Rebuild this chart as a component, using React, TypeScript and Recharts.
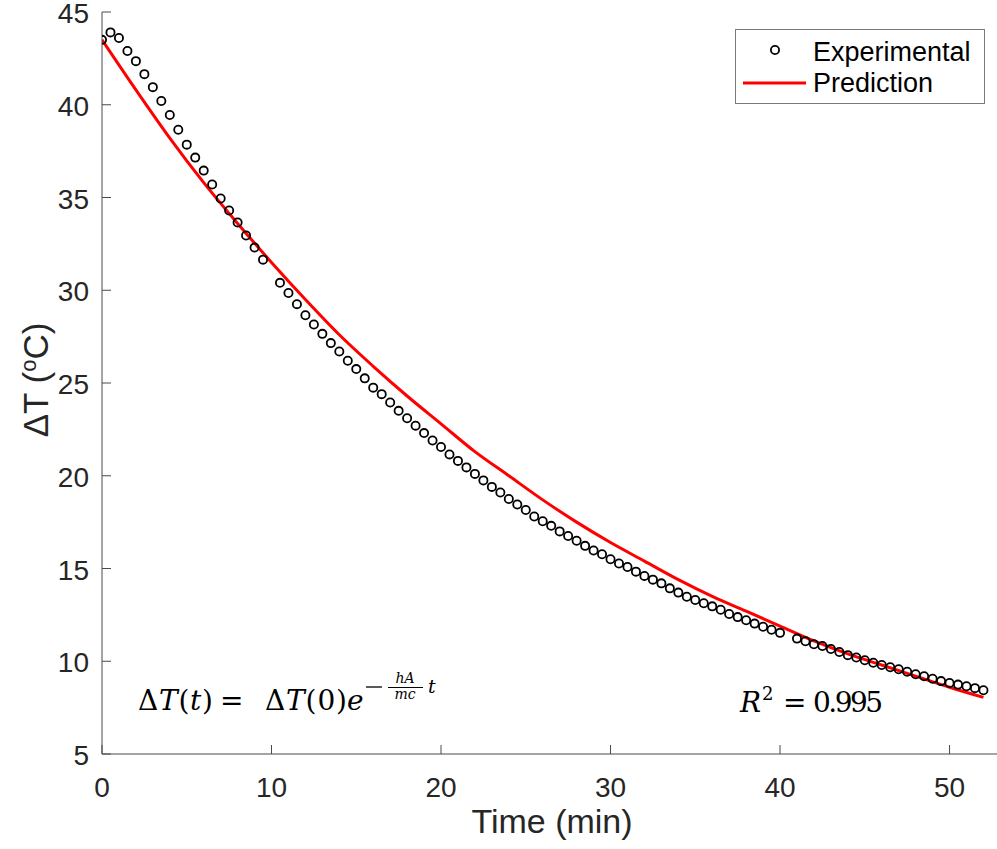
import { ComposedChart, Legend, Line, Scatter, XAxis, YAxis } from "recharts";

// measured cooling data (min, deg C)
const expTime = [
  0, 0.5, 1, 1.5, 2, 2.5, 3, 3.5, 4, 4.5, 5, 5.5, 6, 6.5, 7, 7.5, 8, 8.5, 9, 9.5,
  10.5, 11, 11.5, 12, 12.5, 13, 13.5, 14, 14.5, 15, 15.5, 16, 16.5, 17, 17.5, 18, 18.5, 19, 19.5, 20,
  20.5, 21, 21.5, 22, 22.5, 23, 23.5, 24, 24.5, 25, 25.5, 26, 26.5, 27, 27.5, 28, 28.5, 29, 29.5, 30,
  30.5, 31, 31.5, 32, 32.5, 33, 33.5, 34, 34.5, 35, 35.5, 36, 36.5, 37, 37.5, 38, 38.5, 39, 39.5, 40,
  41, 41.5, 42, 42.5, 43, 43.5, 44, 44.5, 45, 45.5, 46, 46.5, 47, 47.5, 48, 48.5, 49, 49.5, 50, 50.5,
  51, 51.5, 52,
];
const expDelta = [
  43.5, 43.9, 43.6, 42.9, 42.35, 41.65, 40.95, 40.2, 39.45, 38.65, 37.85, 37.15, 36.45, 35.7, 34.95,
  34.3, 33.65, 32.95, 32.3, 31.65,
  30.4, 29.85, 29.25, 28.65, 28.15, 27.65, 27.15, 26.7, 26.2, 25.75, 25.25, 24.75, 24.4, 23.95, 23.5,
  23.1, 22.7, 22.3, 21.9, 21.55,
  21.15, 20.8, 20.45, 20.1, 19.75, 19.4, 19.1, 18.75, 18.45, 18.15, 17.8, 17.55, 17.3, 17.0, 16.75,
  16.5, 16.22, 15.97, 15.77, 15.5,
  15.27, 15.08, 14.83, 14.6, 14.4, 14.2, 13.93, 13.7, 13.48, 13.3, 13.13, 12.96, 12.78, 12.55, 12.38,
  12.21, 12.03, 11.86, 11.7, 11.53,
  11.22, 11.08, 10.92, 10.82, 10.66, 10.5, 10.33, 10.2, 10.05, 9.92, 9.8, 9.68, 9.57, 9.43, 9.3, 9.19,
  9.06, 8.93, 8.83, 8.74,
  8.65, 8.55, 8.44,
];

// model curve
const predTime = [0, 2, 4, 6, 8, 10, 12, 14, 16, 18, 20, 22, 24, 26, 28, 30, 32, 34, 36, 38, 40, 42, 44, 46, 48, 50, 52];
const predDelta = [
  43.5, 40.8, 38.2, 35.8, 33.6, 31.5, 29.5, 27.6, 25.9, 24.3, 22.8, 21.3, 20.0, 18.7, 17.5, 16.4,
  15.4, 14.4, 13.5, 12.7, 11.9, 11.1, 10.4, 9.8, 9.2, 8.6, 8.05,
];

const xTicks = [0, 10, 20, 30, 40, 50];
const yTicks = [5, 10, 15, 20, 25, 30, 35, 40, 45];

const expData = expTime.map((t, i) => ({ t, v: expDelta[i] }));
const predData = predTime.map((t, i) => ({ t, v: predDelta[i] }));

const SANS = "'Liberation Sans', Arial, Helvetica, sans-serif";
const SERIF = "'DejaVu Serif', 'Liberation Serif', serif";
const AXIS = "#4a4a4a";
const TEXT = "#262626";

const XTick = ({ x, y, payload }: any) => (
  <g>
    <line x1={x} x2={x} y1={y} y2={y - 9} stroke={AXIS} strokeWidth={1} />
    <text x={x} y={y + 43} textAnchor="middle" fontSize={28} fill={TEXT} fontFamily={SANS}>
      {payload.value}
    </text>
  </g>
);

const YTick = ({ x, y, payload }: any) => (
  <g>
    <line x1={x} x2={x + 9} y1={y} y2={y} stroke={AXIS} strokeWidth={1} />
    <text x={x - 13} y={y + 11} textAnchor="end" fontSize={28} fill={TEXT} fontFamily={SANS}>
      {payload.value}
    </text>
  </g>
);

const OpenCircle = (props: any) => (
  <circle cx={props.cx} cy={props.cy} r={4.1} fill="none" stroke="#000" strokeWidth={1.8} />
);

const LegendBox = () => (
  <svg width={250} height={76}>
    <rect x={0.5} y={0.5} width={249} height={74} fill="#fff" stroke="#7a7a7a" strokeWidth={1} />
    <circle cx={40} cy={21} r={4.1} fill="none" stroke="#000" strokeWidth={1.8} />
    <text x={78} y={32} fontSize={27} fontFamily={SANS} fill="#000">
      Experimental
    </text>
    <line x1={8} x2={71} y1={54} y2={54} stroke="#ff0000" strokeWidth={3} />
    <text x={78} y={62.5} fontSize={27} fontFamily={SANS} fill="#000">
      Prediction
    </text>
  </svg>
);

export default function App() {
  return (
    <div style={{ position: "absolute", left: 0, top: 0, width: 997, height: 849, background: "#fff" }}>
      <ComposedChart
        width={997}
        height={849}
        margin={{ top: 12, right: 0, bottom: 0, left: 0 }}
      >
        <XAxis
          type="number"
          dataKey="t"
          domain={[0, 52.8]}
          ticks={xTicks}
          allowDataOverflow
          height={95}
          tickSize={0}
          tickMargin={0}
          tickLine={false}
          axisLine={{ stroke: AXIS, strokeWidth: 1 }}
          tick={<XTick />}
        />
        <YAxis
          type="number"
          dataKey="v"
          domain={[5, 45]}
          ticks={yTicks}
          allowDataOverflow
          width={102}
          tickSize={0}
          tickMargin={0}
          tickLine={false}
          axisLine={{ stroke: AXIS, strokeWidth: 1 }}
          tick={<YTick />}
        />
        <Scatter
          name="Experimental"
          data={expData}
          dataKey="v"
          shape={<OpenCircle />}
          isAnimationActive={false}
        />
        <Line
          name="Prediction"
          data={predData}
          dataKey="v"
          type="monotone"
          stroke="#ff0000"
          strokeWidth={3}
          dot={false}
          activeDot={false}
          isAnimationActive={false}
        />
        <Legend
          layout="vertical"
          align="center"
          verticalAlign="middle"
          content={<LegendBox />}
          wrapperStyle={{ position: "absolute", left: 735, top: 29, width: 250, height: 76 }}
        />
      </ComposedChart>

      <svg
        width={997}
        height={849}
        style={{ position: "absolute", left: 0, top: 0, pointerEvents: "none" }}
      >
        {/* axis titles */}
        <text
          transform="translate(48 380) rotate(-90)"
          textAnchor="middle"
          fontSize={35}
          fontFamily={SANS}
          fill={TEXT}
        >
          ΔT (<tspan fontSize={22} dy={-12}>o</tspan>
          <tspan dy={12}>C)</tspan>
        </text>
        <text x={552} y={833} textAnchor="middle" fontSize={34} fontFamily={SANS} fill={TEXT}>
          Time (min)
        </text>

        {/* model equation */}
        <text y={710} fontSize={28} fontFamily={SERIF} fill="#000">
          <tspan x={138} textLength={75}>
            Δ<tspan fontStyle="italic">T</tspan>(<tspan fontStyle="italic">t</tspan>)
          </tspan>
        </text>
        <text x={220} y={710} fontSize={28} fontFamily={SERIF} fill="#000">
          =
        </text>
        <text x={265} y={710} fontSize={28} fontFamily={SERIF} fill="#000" textLength={82}>
          Δ<tspan fontStyle="italic">T</tspan>(0)
        </text>
        <text x={347} y={710} fontSize={28} fontFamily={SERIF} fontStyle="italic" fill="#000">
          e
        </text>
        <line x1={366} x2={382} y1={687} y2={687} stroke="#000" strokeWidth={1.3} />
        <text x={405} y={683} textAnchor="middle" fontSize={14} fontStyle="italic" fontFamily={SERIF}>
          hA
        </text>
        <line x1={388} x2={423} y1={687.5} y2={687.5} stroke="#000" strokeWidth={1.2} />
        <text x={405} y={699} textAnchor="middle" fontSize={14} fontStyle="italic" fontFamily={SERIF}>
          mc
        </text>
        <text x={428} y={693} fontSize={19} fontStyle="italic" fontFamily={SERIF}>
          t
        </text>

        {/* goodness of fit */}
        <text x={740} y={712} fontSize={28} fontFamily={SERIF} fontStyle="italic" fill="#000">
          R
        </text>
        <text x={762} y={700} fontSize={18} fontFamily={SERIF} fill="#000">
          2
        </text>
        <text x={783} y={712} fontSize={28} fontFamily={SERIF} fill="#000">
          =
        </text>
        <text x={813} y={712} fontSize={28} fontFamily={SERIF} fill="#000" textLength={70}>
          0.995
        </text>
      </svg>
    </div>
  );
}
